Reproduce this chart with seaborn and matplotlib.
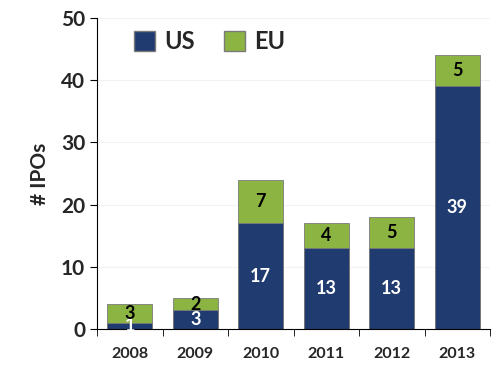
import seaborn as sns
import pandas as pd
import matplotlib.pyplot as plt
import numpy as np
from matplotlib.patches import Patch

years = ["2008", "2009", "2010", "2011", "2012", "2013"]
us = [1, 3, 17, 13, 13, 39]
eu = [3, 2, 7, 4, 5, 5]

navy = "#1f3b6f"
green = "#8bb443"

df = pd.DataFrame({"year": years, "US": us, "EU": eu})
df["total"] = df["US"] + df["EU"]

sns.set_style("ticks")
plt.rcParams["font.family"] = ["Lato", "DejaVu Sans"]
plt.rcParams["font.weight"] = "bold"

fig = plt.figure(figsize=(5, 3.75), dpi=100)
ax = fig.add_axes([0.194, 0.123, 0.786, 0.829])

#stacked look: total in green, US drawn over it
sns.barplot(data=df, x="year", y="total", color=green, width=0.68,
            edgecolor="#7a7a7a", linewidth=0.6, saturation=1, ax=ax)
sns.barplot(data=df, x="year", y="US", color=navy, width=0.68,
            edgecolor="#7a7a7a", linewidth=0.6, saturation=1, ax=ax)

for i in range(len(years)):
    ax.text(i, us[i] / 2, str(us[i]), ha="center", va="center",
            color="white", fontsize=13, fontweight="bold")
    ax.text(i, us[i] + eu[i] / 2, str(eu[i]), ha="center", va="center",
            color="black", fontsize=13, fontweight="bold")

ax.set_ylim(0, 50)
ax.set_xlim(-0.5, 5.5)
ax.set_yticks([0, 10, 20, 30, 40, 50])
ax.yaxis.grid(True, color="#f2f2f2", linewidth=0.8)
ax.set_axisbelow(True)
ax.set_xlabel("")
ax.set_ylabel("# IPOs", fontsize=15, fontweight="bold", labelpad=8)

ax.set_xticks(np.arange(-0.5, 6, 1), minor=True)
ax.tick_params(axis="x", which="major", length=0, labelsize=11.5, pad=13)
ax.tick_params(axis="x", which="minor", length=5, direction="out", color="black")
ax.tick_params(axis="y", labelsize=15, length=5, direction="out", color="black")
for lab in ax.get_xticklabels() + ax.get_yticklabels():
    lab.set_fontweight("bold")

sns.despine(ax=ax, top=True, right=True)
ax.spines["left"].set_color("black")
ax.spines["bottom"].set_color("black")

handles = [Patch(facecolor=navy, edgecolor="#7a7a7a", label="US"),
           Patch(facecolor=green, edgecolor="#7a7a7a", label="EU")]
leg = ax.legend(handles=handles, loc="upper left", bbox_to_anchor=(0.04, 1.03),
                ncol=2, frameon=False, fontsize=17, handlelength=0.9,
                handleheight=0.9, handletextpad=0.4, columnspacing=1.2)
for t in leg.get_texts():
    t.set_fontweight("bold")

fig.savefig("out.png", dpi=100)
